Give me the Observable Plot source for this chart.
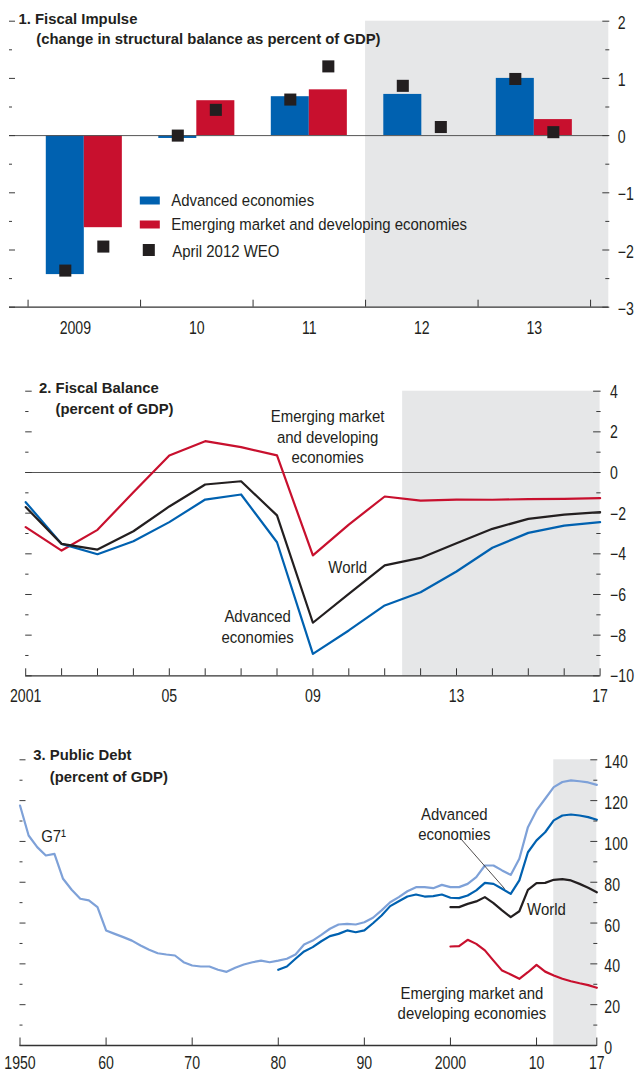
<!DOCTYPE html>
<html><head><meta charset="utf-8">
<script src="https://cdn.jsdelivr.net/npm/d3@7"></script>
<script src="https://cdn.jsdelivr.net/npm/@observablehq/plot@0.6"></script>
<style>
html,body{margin:0;padding:0;background:#fff;}
#chart{width:636px;}
#chart svg{display:block;}
</style></head><body><div id="chart"></div>
<script>
// ---------- Panel 1: Fiscal Impulse ----------
const fiYears = [2009, 2010, 2011, 2012, 2013];
const fiTickLabels = ["2009", "10", "11", "12", "13"];
const fiAdvanced = [-2.43, -0.05, 0.68, 0.72, 1.00];
const fiEmerging = [-1.61, 0.61, 0.80, 0.00, 0.28];
const fiAprilAdvanced = [-2.36, 0.00, 0.63, 0.87, 0.99];
const fiAprilEmerging = [-1.94, 0.45, 1.21, 0.15, 0.06];
const fiYMajor = [2, 1, 0, -1, -2, -3];
const fiYLabels = ["2", "1", "0", "−1", "−2", "−3"];
const fiYMinor = [1.5, 0.5, -0.5, -1.5, -2.5];
const fiBoundaries = [2008.5, 2009.5, 2010.5, 2011.5, 2012.5, 2013.5];
const fiXDomain = [2008.335, 2013.662];
const fiShade = [{x1: 2011.5, x2: 2013.662}];
const fiLegend = ["Advanced economies", "Emerging market and developing economies", "April 2012 WEO"];

// ---------- Panel 2: Fiscal Balance ----------
const fbYears = [2001,2002,2003,2004,2005,2006,2007,2008,2009,2010,2011,2012,2013,2014,2015,2016,2017];
const fbAdvanced = [-1.46,-3.51,-4.02,-3.38,-2.44,-1.33,-1.08,-3.43,-8.92,-7.77,-6.54,-5.89,-4.87,-3.70,-2.97,-2.61,-2.44];
const fbWorld    = [-1.70,-3.51,-3.79,-2.89,-1.67,-0.59,-0.43,-2.11,-7.39,-5.97,-4.57,-4.20,-3.48,-2.77,-2.28,-2.07,-1.95];
const fbEmerging = [-2.69,-3.84,-2.82,-0.97,0.84,1.54,1.25,0.84,-4.08,-2.56,-1.18,-1.38,-1.33,-1.34,-1.31,-1.30,-1.26];
const fbYMajor = [4, 2, 0, -2, -4, -6, -8, -10];
const fbYLabels = ["4", "2", "0", "−2", "−4", "−6", "−8", "−10"];
const fbYMinor = [3, 1, -1, -3, -5, -7, -9];
const fbXLabelYears = [2001, 2005, 2009, 2013, 2017];
const fbXLabels = ["2001", "05", "09", "13", "17"];
const fbShade = [{x1: 2011.5, x2: 2017}];
const fbNotes = [
  {text: "Emerging market\nand developing\neconomies", x: 2009.41, y: 1.79},
  {text: "World", x: 2009.97, y: -4.62},
  {text: "Advanced\neconomies", x: 2007.46, y: -7.54}
];

// ---------- Panel 3: Public Debt ----------
const pdG7Years = [1950,1951,1952,1953,1954,1955,1956,1957,1958,1959,1960,1961,1962,1963,1964,1965,1966,1967,1968,1969,1970,1971,1972,1973,1974,1975,1976,1977,1978,1979,1980,1981,1982,1983,1984,1985,1986,1987,1988,1989,1990,1991,1992,1993,1994,1995,1996,1997,1998,1999,2000,2001,2002,2003,2004,2005,2006,2007,2008,2009,2010,2011,2012,2013,2014,2015,2016,2017];
const pdG7 = [117.6,102.9,97.2,93.1,93.9,81.7,76.3,71.9,71.1,67.8,56.4,54.7,53.1,51.4,49.0,46.9,45.2,44.6,44.1,40.8,39.2,38.7,38.7,37.1,36.1,38.1,39.7,40.8,41.6,40.8,41.6,42.5,44.6,49.5,51.4,54.2,57.2,59.3,59.6,59.3,60.4,62.6,66.2,70.2,72.7,75.6,77.6,77.6,77.1,78.7,77.6,77.6,79.2,82.5,88.2,88.2,85.8,83.6,91.5,107.0,115.2,120.9,126.6,129.1,129.9,129.5,128.9,127.7];
const pdAdvYears = [1980,1981,1982,1983,1984,1985,1986,1987,1988,1989,1990,1991,1992,1993,1994,1995,1996,1997,1998,1999,2000,2001,2002,2003,2004,2005,2006,2007,2008,2009,2010,2011,2012,2013,2014,2015,2016,2017];
const pdAdvanced = [37.1,38.7,42.5,46.1,48.2,51.1,53.6,54.7,56.4,55.5,56.4,59.9,63.7,68.3,70.7,73.0,74.0,73.0,73.2,74.0,72.4,72.2,73.5,76.0,79.7,79.2,76.8,74.3,80.9,94.7,100.5,104.5,110.3,112.7,113.2,112.7,111.9,110.6];
const pdRecentYears = [2000,2001,2002,2003,2004,2005,2006,2007,2008,2009,2010,2011,2012,2013,2014,2015,2016,2017];
const pdWorld = [67.8,67.8,69.4,70.6,72.7,69.8,66.2,62.9,65.8,76.3,79.6,79.7,81.2,81.5,80.9,79.2,77.3,75.1];
const pdEmerging = [48.5,48.7,51.8,49.8,46.6,41.6,36.7,34.8,32.7,35.9,39.5,36.2,34.3,32.7,31.5,30.5,29.6,28.3];
const pdYMajor = [0, 20, 40, 60, 80, 100, 120, 140];
const pdYLabels = ["0", "20", "40", "60", "80", "100", "120", "140"];
const pdYMinor = [10, 30, 50, 70, 90, 110, 130];
const pdXTicks = [1950, 1960, 1970, 1980, 1990, 2000, 2010, 2017];
const pdXLabels = ["1950", "60", "70", "80", "90", "2000", "10", "17"];
const pdShade = [{x1: 2012, x2: 2017}];
const pdNotes = [
  {text: "G7¹", x: 1952.46, y: 102.4, anchor: "start"},
  {text: "Advanced\neconomies", x: 2000.45, y: 108.8, anchor: "middle"},
  {text: "World", x: 2008.9, y: 66.5, anchor: "start"},
  {text: "Emerging market and\ndeveloping economies", x: 2002.5, y: 21.1, anchor: "middle"}
];
const pdLeader = [{x1: 2001.1, y1: 101.8, x2: 2006.3, y2: 76.8}];

// ---------- styling ----------
const BLUE = "#0061b0", RED = "#c8102e", BLACK = "#231f20", G7BLUE = "#7ea1d8", SHADE = "#e6e7e8", INK = "#231f20";

function hasFont(name) {
  const c = document.createElement("canvas").getContext("2d");
  const s = "mmmmmmmmmmlliiWEO 2012 abcdefg";
  let diff = false;
  for (const fb of ["monospace", "serif"]) {
    c.font = `40px ${fb}`; const a = c.measureText(s).width;
    c.font = `40px "${name}", ${fb}`; const b = c.measureText(s).width;
    if (Math.abs(a - b) > 0.5) diff = true;
  }
  return diff;
}
const bodyFamily = ["Liberation Sans", "Arial", "DejaVu Sans"].find(hasFont) || "sans-serif";
const bodySize = 17;     // cap height ~12px as in the reference
const tickFont = 17.5;
const titleSize = 15;
const mctx = document.createElement("canvas").getContext("2d");
function widthAt(size, s, w = "") { mctx.font = `${w} ${size}px "${bodyFamily}"`; return mctx.measureText(s).width; }
// horizontal condensing so that widths match the reference's condensed face
const bodyK = Math.min(1, 296 / widthAt(bodySize, fiLegend[1]));
const tickK = Math.min(1, 31.4 / widthAt(tickFont, "2009"));
const titleK = Math.min(1, 119 / widthAt(titleSize, "1. Fiscal Impulse", "bold"));
const F = `"${bodyFamily}", sans-serif`;

function yTicks(major, minor, labels, pad, dy, majorLen, minorLen) {
  return [
    Plot.axisY({anchor: "left", ticks: major, tickSize: majorLen, dx: majorLen, tickFormat: () => "", label: null, stroke: "#3a3a3a"}),
    Plot.axisY({anchor: "left", ticks: minor, tickSize: minorLen, dx: minorLen, tickFormat: () => "", label: null, stroke: "#3a3a3a"}),
    Plot.axisY({anchor: "right", ticks: major, tickSize: majorLen + 1, dx: -(majorLen + 1), tickFormat: () => "", label: null, stroke: "#3a3a3a"}),
    Plot.axisY({anchor: "right", ticks: minor, tickSize: minorLen + 1, dx: -(minorLen + 1), tickFormat: () => "", label: null, stroke: "#3a3a3a"}),
    Plot.axisY({anchor: "right", ticks: major, tickSize: 0, tickPadding: pad, dy, label: null,
      tickFormat: d => labels[major.indexOf(d)], fontSize: tickFont, fill: INK})
  ];
}
function titles(t1, t2, dx1, dy1, dx2, dy2) {
  return [
    Plot.text([t1], {frameAnchor: "top-left", dx: dx1, dy: dy1, textAnchor: "start", lineAnchor: "middle", fontWeight: "bold", fontSize: titleSize, fill: INK}),
    Plot.text([t2], {frameAnchor: "top-left", dx: dx2, dy: dy2, textAnchor: "start", lineAnchor: "middle", fontWeight: "bold", fontSize: titleSize, fill: INK})
  ];
}
const baseStyle = {fontFamily: F, fontSize: `${tickFont}px`, color: INK, background: "transparent", overflow: "visible"};

// ---------- Panel 1 ----------
const barW = 0.338;
const fiRows = fiYears.map((year, i) => ({year, adv: fiAdvanced[i], em: fiEmerging[i], aAdv: fiAprilAdvanced[i], aEm: fiAprilEmerging[i]}));
const swatch = (w, h) => ({draw(ctx) { ctx.rect(-w / 2, -h / 2, w, h); }});
const legendText = (i, dx, dy) => Plot.text(fiLegend, {frameAnchor: "top-left", dx, dy, textAnchor: "start", lineAnchor: "middle", fontSize: bodySize, fill: INK, filter: (d, j) => j === i});

const p1 = Plot.plot({
  width: 636, height: 355,
  marginLeft: 9, marginRight: 27.7, marginTop: 20.7, marginBottom: 48.3,
  style: baseStyle,
  x: {domain: fiXDomain, label: null},
  y: {domain: [-3, 2], label: null},
  marks: [
    Plot.rect(fiShade, {x1: "x1", x2: "x2", y1: -3, y2: 2, fill: SHADE}),
    Plot.rect(fiRows, {x1: d => d.year - barW, x2: d => d.year, y1: 0, y2: "adv", fill: BLUE}),
    Plot.rect(fiRows, {x1: d => d.year, x2: d => d.year + barW, y1: 0, y2: "em", fill: RED}),
    Plot.ruleY([0], {stroke: "#555", strokeWidth: 1}),
    Plot.dot(fiRows, {x: d => d.year - barW / 2, y: "aAdv", symbol: "square", r: 6.8, fill: BLACK}),
    Plot.dot(fiRows, {x: d => d.year + barW / 2, y: "aEm", symbol: "square", r: 6.8, fill: BLACK}),
    Plot.ruleY([-3], {stroke: "#333", strokeWidth: 1.3}),
    Plot.axisX({anchor: "bottom", ticks: fiBoundaries, tickSize: 7, dy: -7, tickFormat: () => "", label: null, stroke: "#333"}),
    Plot.axisX({anchor: "bottom", ticks: fiYears.slice(1), tickSize: 0, tickPadding: 14, label: null,
      tickFormat: d => fiTickLabels[fiYears.indexOf(d)], fontSize: tickFont, fill: INK}),
    Plot.axisX({anchor: "bottom", ticks: fiYears.slice(0, 1), tickSize: 0, tickPadding: 14, dx: -9, label: null,
      tickFormat: d => fiTickLabels[fiYears.indexOf(d)], fontSize: tickFont, fill: INK}),
    ...yTicks(fiYMajor, fiYMinor, fiYLabels, 9, 2, 6, 3),
    ...titles("1. Fiscal Impulse", "(change in structural balance as percent of GDP)", 9, -2, 26.8, 18.1),
    // legend
    Plot.dot([fiLegend[0]], {frameAnchor: "top-left", dx: 140.3, dy: 179.3, symbol: swatch(20, 8), r: 1, fill: BLUE}),
    Plot.dot([fiLegend[1]], {frameAnchor: "top-left", dx: 140.3, dy: 203.3, symbol: swatch(20, 8), r: 1, fill: RED}),
    Plot.dot([fiLegend[2]], {frameAnchor: "top-left", dx: 139.3, dy: 228.8, symbol: "square", r: 6.8, fill: BLACK}),
    legendText(0, 161.7, 179.8),
    legendText(1, 161.7, 203.8),
    legendText(2, 162.7, 230.3)
  ]
});

// ---------- Panel 2 ----------
const fbRows = fbYears.map((year, i) => ({year, adv: fbAdvanced[i], world: fbWorld[i], em: fbEmerging[i]}));
const p2 = Plot.plot({
  width: 636, height: 380,
  marginLeft: 25.2, marginRight: 36.4, marginTop: 35.7, marginBottom: 59.7,
  style: baseStyle,
  x: {domain: [2001, 2017], label: null},
  y: {domain: [-10, 4], label: null},
  marks: [
    Plot.rect(fbShade, {x1: "x1", x2: "x2", y1: -10, y2: 4, fill: SHADE}),
    Plot.ruleY([0], {stroke: "#555", strokeWidth: 1}),
    Plot.line(fbRows, {x: "year", y: "em", stroke: RED, strokeWidth: 2.2, strokeLinejoin: "round"}),
    Plot.line(fbRows, {x: "year", y: "adv", stroke: BLUE, strokeWidth: 2.2, strokeLinejoin: "round"}),
    Plot.line(fbRows, {x: "year", y: "world", stroke: BLACK, strokeWidth: 2.2, strokeLinejoin: "round"}),
    Plot.ruleY([-10], {stroke: "#333", strokeWidth: 1.3}),
    Plot.axisX({anchor: "bottom", ticks: fbYears, tickSize: 7, dy: -7, tickFormat: () => "", label: null, stroke: "#333"}),
    Plot.axisX({anchor: "bottom", ticks: fbXLabelYears, tickSize: 0, tickPadding: 13.7, label: null,
      tickFormat: d => fbXLabels[fbXLabelYears.indexOf(d)], fontSize: tickFont, fill: INK}),
    ...yTicks(fbYMajor, fbYMinor, fbYLabels, 10, 1, 6.5, 3.3),
    ...titles("2. Fiscal Balance", "(percent of GDP)", 13.4, -2.7, 29.8, 18.3),
    Plot.text(fbNotes, {x: "x", y: "y", text: "text", textAnchor: "middle", lineAnchor: "middle", lineHeight: 1.2, fontSize: bodySize, fill: INK})
  ]
});

// ---------- Panel 3 ----------
const g7Rows = pdG7Years.map((year, i) => ({year, v: pdG7[i]}));
const advRows = pdAdvYears.map((year, i) => ({year, v: pdAdvanced[i]}));
const worldRows = pdRecentYears.map((year, i) => ({year, v: pdWorld[i]}));
const emRows = pdRecentYears.map((year, i) => ({year, v: pdEmerging[i]}));
const p3 = Plot.plot({
  width: 636, height: 337,
  marginLeft: 19.5, marginRight: 39.7, marginTop: 24.3, marginBottom: 27,
  style: baseStyle,
  x: {domain: [1950, 2017], label: null},
  y: {domain: [0, 140], label: null},
  marks: [
    Plot.rect(pdShade, {x1: "x1", x2: "x2", y1: 0, y2: 140, fill: SHADE}),
    Plot.line(g7Rows, {x: "year", y: "v", stroke: G7BLUE, strokeWidth: 2.2, strokeLinejoin: "round"}),
    Plot.line(advRows, {x: "year", y: "v", stroke: BLUE, strokeWidth: 2.2, strokeLinejoin: "round"}),
    Plot.line(worldRows, {x: "year", y: "v", stroke: BLACK, strokeWidth: 2.2, strokeLinejoin: "round"}),
    Plot.line(emRows, {x: "year", y: "v", stroke: RED, strokeWidth: 2.2, strokeLinejoin: "round"}),
    Plot.link(pdLeader, {x1: "x1", y1: "y1", x2: "x2", y2: "y2", stroke: INK, strokeWidth: 0.8}),
    Plot.ruleY([0], {stroke: "#333", strokeWidth: 1.3}),
    Plot.axisX({anchor: "bottom", ticks: pdXTicks, tickSize: 7.5, dy: -7.5, tickFormat: () => "", label: null, stroke: "#333"}),
    Plot.axisX({anchor: "bottom", ticks: pdXTicks, tickSize: 0, tickPadding: 10.6, label: null,
      tickFormat: d => pdXLabels[pdXTicks.indexOf(d)], fontSize: tickFont, fill: INK}),
    ...yTicks(pdYMajor, pdYMinor, pdYLabels, 7.5, 3, 6, 3),
    ...titles("3. Public Debt", "(percent of GDP)", 13.2, -4.3, 29.8, 17.7),
    Plot.text(pdNotes.filter(d => d.anchor === "start"), {x: "x", y: "y", text: "text", textAnchor: "start", lineAnchor: "middle", fontSize: bodySize, fill: INK}),
    Plot.text(pdNotes.filter(d => d.anchor === "middle"), {x: "x", y: "y", text: "text", textAnchor: "middle", lineAnchor: "middle", lineHeight: 1.17, fontSize: bodySize, fill: INK})
  ]
});

const root = document.getElementById("chart");
root.append(p1, p2, p3);

// condense text horizontally about its own anchor (the reference uses a condensed face)
function condense(svg) {
  svg.querySelectorAll("text").forEach(t => {
    const bold = !!t.closest('[font-weight="bold"]');
    const g = t.closest("[font-size]");
    const fs = g ? parseFloat(g.getAttribute("font-size")) : tickFont;
    const k = bold ? titleK : Math.abs(fs - tickFont) < 0.01 ? tickK : bodyK;
    const x = parseFloat(t.getAttribute("x")) || 0, y = parseFloat(t.getAttribute("y")) || 0;
    const tr = t.getAttribute("transform") || "";
    t.setAttribute("transform", `${tr} translate(${x},${y}) scale(${k.toFixed(4)},1) translate(${-x},${-y})`);
  });
}
[p1, p2, p3].forEach(condense);
</script></body></html>
